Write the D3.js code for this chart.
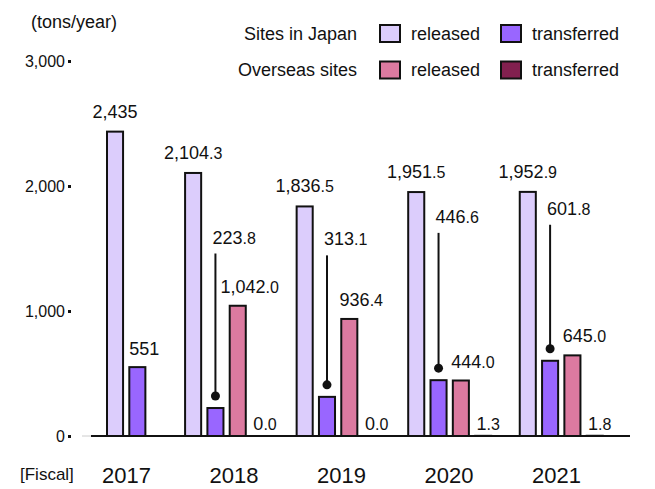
<!DOCTYPE html>
<html>
<head>
<meta charset="utf-8">
<script src="https://cdn.jsdelivr.net/npm/d3@7"></script>
<style>
  body { margin: 0; background: #fff; }
  text { font-family: "Liberation Sans", Arial, sans-serif; fill: #111; }
</style>
</head>
<body>
<svg id="chart" width="655" height="489"></svg>
<script>
// Fiscal years and the number of decimals each year's figures are reported with
const years = ["2017", "2018", "2019", "2020", "2021"];
const decimals = [0, 1, 1, 1, 1];

// Emissions (tons/year); null = not reported that year
const japanReleased       = [2435, 2104.3, 1836.5, 1951.5, 1952.9];
const japanTransferred    = [551, 223.8, 313.1, 446.6, 601.8];
const overseasReleased    = [null, 1042.0, 936.4, 444.0, 645.0];
const overseasTransferred = [null, 0.0, 0.0, 1.3, 1.8];

const yTicks = [0, 1000, 2000, 3000];
const legendGroups = ["Sites in Japan", "Overseas sites"];
const legendKinds = ["released", "transferred"];

// Height (in tons on the value axis) where callout labels for small transferred bars sit
const calloutLevel = [null, 1540, 1525, 1705, 1770];

const colors = {
  japanReleased: "#dccdfc",
  japanTransferred: "#9966ff",
  overseasReleased: "#dc7aa0",
  overseasTransferred: "#82204f"
};

const series = [
  { key: "japanReleased", values: japanReleased },
  { key: "japanTransferred", values: japanTransferred },
  { key: "overseasReleased", values: overseasReleased },
  { key: "overseasTransferred", values: overseasTransferred }
];

const svg = d3.select("#chart");

// ---- scales ----
const y = d3.scaleLinear().domain([0, 3000]).range([436, 61]);

// Lay bars out in slot units: one slot per bar, a gap between years
// (narrower groups leave a little more room after them)
const slots = [];
let cursor = 0, prevCount = null;
years.forEach((yr, i) => {
  const present = series.filter(s => s.values[i] !== null);
  if (prevCount !== null) cursor += 1 + (4 - prevCount) * 0.25;
  present.forEach((s, j) => {
    slots.push({ year: yr, i, key: s.key, value: s.values[i], unit: cursor + j });
  });
  cursor += present.length;
  prevCount = present.length;
});
const totalUnits = cursor;
const x = d3.scaleLinear().domain([0, totalUnits]).range([107, 609]);
const step = x(1) - x(0);
const barW = step * 0.72;
const cx = d => x(d.unit) + barW / 2;

// Year axis
const xYear = d3.scaleBand().domain(years).range([72.75, 610.25]).padding(0);

// ---- y axis ----
const yAxis = svg.append("g")
  .attr("transform", "translate(65,0)")
  .call(d3.axisLeft(y).tickValues(yTicks).tickFormat(d3.format(",")).tickSize(0).tickPadding(0));
yAxis.select(".domain").remove();
yAxis.selectAll("text")
  .style("font-size", "16px")
  .style("font-family", "'Liberation Sans', Arial, sans-serif")
  .attr("fill", "#111");
yAxis.selectAll(".tick").append("rect")
  .attr("x", 3).attr("y", -1.5).attr("width", 3).attr("height", 3).attr("fill", "#111");

svg.append("text").attr("x", 31).attr("y", 28)
  .style("font-size", "18px").text("(tons/year)");

// ---- bars ----
svg.append("g").selectAll("rect")
  .data(slots)
  .join("rect")
  .attr("x", d => x(d.unit))
  .attr("y", d => y(d.value))
  .attr("width", barW)
  .attr("height", d => y(0) - y(d.value))
  .attr("fill", d => colors[d.key])
  .attr("stroke", "#111")
  .attr("stroke-width", 2);

// baseline
svg.append("line").attr("x1", 82).attr("x2", 91).attr("y1", y(0)).attr("y2", y(0))
  .attr("stroke", "#ccc").attr("stroke-width", 1);
svg.append("line").attr("x1", 91).attr("x2", 630).attr("y1", y(0)).attr("y2", y(0))
  .attr("stroke", "#111").attr("stroke-width", 2.2);

// ---- value labels ----
function valueLabel(sel, d) {
  const s = d3.format(",." + decimals[d.i] + "f")(d.value);
  const [intPart, decPart] = s.split(".");
  sel.append("tspan").style("font-size", "18px").text(intPart);
  if (decPart !== undefined) sel.append("tspan").style("font-size", "16px").text("." + decPart);
}

const labels = svg.append("g");
slots.forEach(d => {
  const t = labels.append("text");
  if (d.key === "japanReleased") {
    t.attr("x", cx(d)).attr("y", y(d.value) - 14).attr("text-anchor", "middle");
  } else if (d.key === "japanTransferred") {
    const lvl = calloutLevel[d.i];
    if (lvl === null) {
      t.attr("x", cx(d) + 7).attr("y", y(d.value) - 12).attr("text-anchor", "middle");
    } else {
      labels.append("line")
        .attr("x1", cx(d)).attr("x2", cx(d))
        .attr("y1", y(lvl) + 10).attr("y2", y(d.value) - 12)
        .attr("stroke", "#111").attr("stroke-width", 2);
      labels.append("circle")
        .attr("cx", cx(d)).attr("cy", y(d.value) - 12).attr("r", 4.5).attr("fill", "#111");
      t.attr("x", cx(d) - 3).attr("y", y(lvl)).attr("text-anchor", "start");
    }
  } else if (d.key === "overseasReleased") {
    t.attr("x", cx(d) + 12).attr("y", y(d.value) - 13).attr("text-anchor", "middle");
  } else {
    t.attr("x", cx(d) + 5).attr("y", y(d.value) - 6).attr("text-anchor", "middle");
  }
  valueLabel(t, d);
});

// ---- year axis ----
const xAxis = svg.append("g")
  .attr("transform", "translate(0,467)")
  .call(d3.axisBottom(xYear).tickSize(0).tickPadding(0));
xAxis.select(".domain").remove();
xAxis.selectAll("text")
  .style("font-size", "22px")
  .style("font-family", "'Liberation Sans', Arial, sans-serif")
  .attr("fill", "#111");

svg.append("text").attr("x", 20).attr("y", 480)
  .style("font-size", "17px").text("[Fiscal]");

// ---- legend ----
const legendKeys = [
  ["japanReleased", "japanTransferred"],
  ["overseasReleased", "overseasTransferred"]
];
const legendRowY = [33.5, 70];
const legendColX = [380, 501];
legendGroups.forEach((g, r) => {
  svg.append("text").attr("x", 357).attr("y", legendRowY[r] + 6)
    .attr("text-anchor", "end").style("font-size", "18px").text(g);
  legendKinds.forEach((k, c) => {
    svg.append("rect")
      .attr("x", legendColX[c]).attr("y", legendRowY[r] - 8.5)
      .attr("width", 20).attr("height", 17)
      .attr("fill", colors[legendKeys[r][c]])
      .attr("stroke", "#111").attr("stroke-width", 2);
    svg.append("text").attr("x", legendColX[c] + 31).attr("y", legendRowY[r] + 6)
      .style("font-size", "18px").text(k);
  });
});
</script>
</body>
</html>
